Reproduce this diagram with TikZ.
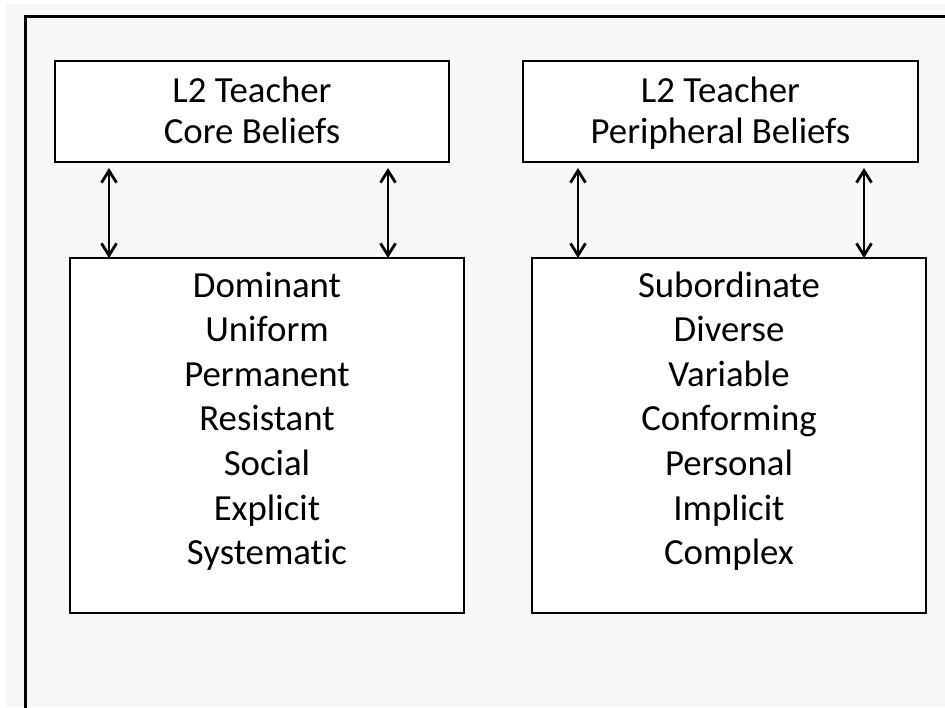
\documentclass[tikz,border=0pt]{standalone}
\usepackage{fontspec}
\setmainfont[Ligatures=NoCommon]{Carlito}
\usetikzlibrary{arrows.meta}
\definecolor{bggray}{HTML}{F7F7F7}
\begin{document}
\begin{tikzpicture}[x=1pt,y=-1pt,
  box/.style={draw=black, line width=2pt, fill=white, rectangle, inner sep=0pt, outer sep=0pt, anchor=north west},
  txt/.style={anchor=base, inner sep=0pt, font=\fontsize{36.8pt}{41pt}\selectfont},
  tip/.tip={Straight Barb[length=12pt,width=15pt,line width=2.8pt]},
  arr/.style={line width=2.8pt, tip-tip, shorten <=6pt},
  frame/.style={line width=3pt, line join=miter}]
\useasboundingbox (0,0) rectangle (945,707);
\fill[white] (0,0) rectangle (945,707);
\fill[bggray] (6,4) rectangle (945,707);
\draw[frame] (945,16) -- (25,16) -- (25,710);

% boxes
\node[box, minimum width=394pt, minimum height=101pt] (b1) at (55,61) {};
\node[box, minimum width=395pt, minimum height=101pt] (b2) at (523,61) {};
\node[box, minimum width=394pt, minimum height=355pt] (b3) at (70,258) {};
\node[box, minimum width=394pt, minimum height=355pt] (b4) at (532,258) {};

% top texts
\node[txt] (c1) at (252,102) {L2 Teacher};
\node[txt] (c2) at (252,143) {Core Beliefs};
\node[txt] (p1) at (720.5,102) {L2 Teacher};
\node[txt] (p2) at (720.5,143) {Peripheral Beliefs};

% bottom texts
\foreach \w [count=\i] in {Dominant,Uniform,Permanent,Resistant,Social,Explicit,Systematic}
  \node[txt] (cl\i) at (267,{297+(\i-1)*44.6}) {\w};
\foreach \w [count=\i] in {Subordinate,Diverse,Variable,Conforming,Personal,Implicit,Complex}
  \node[txt] (pl\i) at (729,{297+(\i-1)*44.6}) {\w};

% arrows
\coordinate (a1) at (109,0);
\coordinate (a2) at (388,0);
\coordinate (a3) at (578,0);
\coordinate (a4) at (864,0);
\draw[arr] (b1.south -| a1) -- (b3.north -| a1);
\draw[arr] (b1.south -| a2) -- (b3.north -| a2);
\draw[arr] (b2.south -| a3) -- (b4.north -| a3);
\draw[arr] (b2.south -| a4) -- (b4.north -| a4);
\end{tikzpicture}
\end{document}
